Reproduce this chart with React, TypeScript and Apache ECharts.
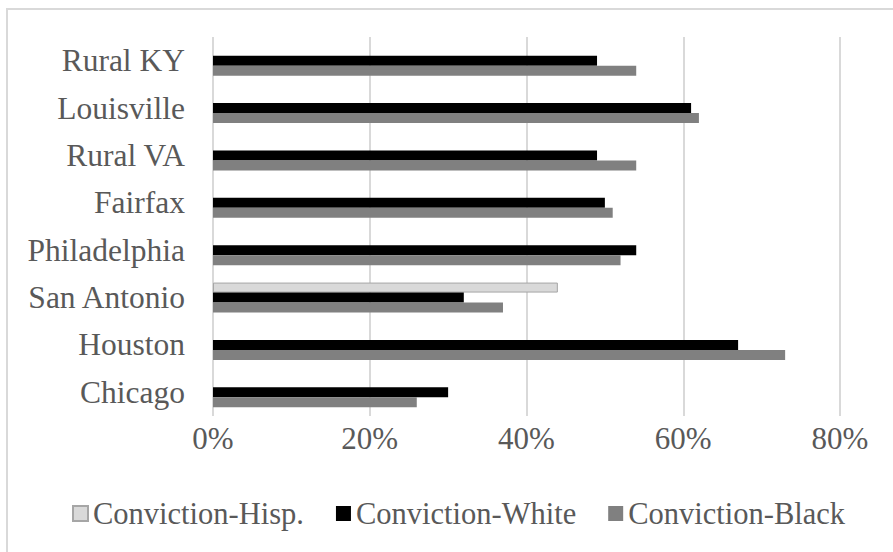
import React, { useEffect, useRef } from "react";
import * as echarts from "echarts";

const categories = ["Chicago", "Houston", "San Antonio", "Philadelphia", "Fairfax", "Rural VA", "Louisville", "Rural KY"];
const hispValues = [null, null, 0.44, null, null, null, null, null];
const whiteValues = [0.30, 0.67, 0.32, 0.54, 0.50, 0.49, 0.61, 0.49];
const blackValues = [0.26, 0.73, 0.37, 0.52, 0.51, 0.54, 0.62, 0.54];
const seriesNames = ["Conviction-Hisp.", "Conviction-White", "Conviction-Black"];
const xTicks = { min: 0, max: 0.8, interval: 0.2 };

const FONT = "'Liberation Serif', 'Times New Roman', serif";
const TEXT = "#595959";

export default function App() {
  const ref = useRef<HTMLDivElement>(null);
  useEffect(() => {
    if (!ref.current) return;
    const chart = echarts.init(ref.current, null, { renderer: "svg" });
    chart.setOption({
      animation: false,
      backgroundColor: "#ffffff",
      textStyle: { fontFamily: FONT },
      graphic: [
        { type: "line", shape: { x1: 6, y1: 9, x2: 893, y2: 9 }, style: { stroke: "#d9d9d9", lineWidth: 2 } },
        { type: "line", shape: { x1: 7, y1: 8, x2: 7, y2: 552 }, style: { stroke: "#d9d9d9", lineWidth: 2 } },
      ],
      grid: { left: 213, right: 53, top: 37, height: 379, containLabel: false },
      legend: {
        data: seriesNames,
        icon: "rect",
        left: 67,
        top: 493,
        itemWidth: 15,
        itemHeight: 15,
        itemGap: 32,
        textStyle: { fontSize: 30.5, color: TEXT, fontFamily: FONT },
      },
      xAxis: {
        type: "value",
        min: xTicks.min,
        max: xTicks.max,
        interval: xTicks.interval,
        axisLine: { show: false },
        axisTick: { show: false },
        axisLabel: {
          fontSize: 31,
          color: TEXT,
          fontFamily: FONT,
          margin: 7,
          formatter: (v: number) => Math.round(v * 100) + "%",
        },
        splitLine: { show: true, lineStyle: { color: "#d9d9d9", width: 2 } },
      },
      yAxis: {
        type: "category",
        data: categories,
        axisLine: { show: false },
        axisTick: { show: false },
        axisLabel: { fontSize: 31.5, color: TEXT, fontFamily: FONT, margin: 28 },
      },
      series: [
        {
          name: seriesNames[0],
          type: "bar",
          data: hispValues,
          barWidth: 10,
          barGap: "0%",
          itemStyle: { color: "#d9d9d9", borderColor: "#a6a6a6", borderWidth: 1 },
        },
        {
          name: seriesNames[1],
          type: "bar",
          data: whiteValues,
          barWidth: 10,
          barGap: "0%",
          itemStyle: { color: "#000000" },
        },
        {
          name: seriesNames[2],
          type: "bar",
          data: blackValues,
          barWidth: 10,
          barGap: "0%",
          itemStyle: { color: "#808080" },
        },
      ],
    });
    return () => chart.dispose();
  }, []);
  return <div ref={ref} style={{ width: 893, height: 552, position: "absolute", left: 0, top: 0 }} />;
}
